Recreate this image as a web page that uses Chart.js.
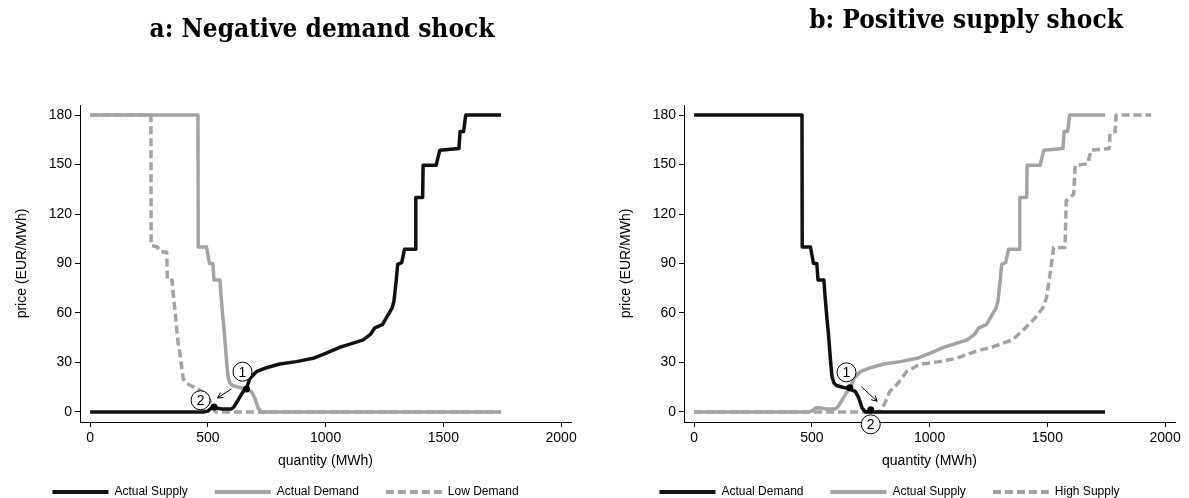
<!DOCTYPE html>
<html>
<head>
<meta charset="utf-8">
<script src="https://cdn.jsdelivr.net/npm/chart.js@4.4.1/dist/chart.umd.min.js"></script>
<style>
  html, body { margin: 0; padding: 0; background: #fff; width: 1189px; height: 498px; overflow: hidden; }
  .panel { position: absolute; top: 0; width: 585px; height: 498px; }
  .panel canvas { position: absolute; left: 0; top: 0; }
  .panel h2 {
    position: absolute; margin: 0; z-index: 2; white-space: nowrap;
    font: bold 26px/26px 'DejaVu Serif Condensed', 'DejaVu Serif', serif;
    font-stretch: condensed; color: #000;
    transform: translateX(-50%);
  }
</style>
</head>
<body>
<div class="panel" style="left:0">
  <h2 style="left:322px; top:15px">a: Negative demand shock</h2>
  <canvas id="chartA" width="585" height="498"></canvas>
</div>
<div class="panel" style="left:604px">
  <h2 style="left:362px; top:6px">b: Positive supply shock</h2>
  <canvas id="chartB" width="585" height="498"></canvas>
</div>
<script>
// ── Données (quantité MWh, prix EUR/MWh) ─────────────────────────────────────
const supplyQ = [0, 480, 500, 515, 530, 560, 600, 610, 628, 649, 664, 678, 706, 749, 805, 876, 947, 1003, 1060, 1100,
  1160, 1190, 1209, 1241, 1266, 1282, 1290, 1300, 1306, 1323, 1335, 1380, 1383, 1412, 1414, 1469, 1485, 1566, 1571, 1586, 1595, 1745];
const supplyP = [0, 0, 0.5, 2.4, 2.5, 1.8, 1.8, 3, 7.1, 12.2, 14.2, 20.3, 24.4, 26.8, 29.1, 30.5, 32.5, 35.6, 39.2, 41,
  43.7, 47, 51, 53, 59, 63, 67, 80, 89.5, 90.5, 98.6, 98.6, 130, 130, 149.5, 149.5, 158.7, 159.7, 170, 170, 180, 180];

const demandQ = [0, 458, 459, 494, 507, 521, 526, 551, 556, 565, 570, 576, 581, 586, 594, 605, 630, 660, 685, 699, 713, 727, 1745];
const demandP = [180, 180, 100, 100, 90, 90, 80, 80, 70, 55, 48, 37, 28, 21, 17.5, 16, 15, 14, 12.3, 8.5, 2.5, 0, 0];

const lowDemandQ = [0, 258, 259, 285, 300, 325, 328, 348, 352, 360, 368, 375, 381, 395, 409, 437, 466, 494, 515, 532, 1745];
const lowDemandP = [180, 180, 101, 100, 97, 97, 80, 80, 73, 62, 50, 40, 36, 20.3, 17.3, 15.3, 13.2, 10.2, 5, 0, 0];

const highSupplyQ = [0, 788, 809, 830, 859, 887, 901, 958, 1042, 1114, 1193, 1273, 1352, 1400, 1448, 1480, 1496, 1511, 1527,
  1575, 1580, 1612, 1618, 1671, 1686, 1763, 1766, 1788, 1792, 1941];
const highSupplyP = [0, 0, 5, 12.2, 16.3, 21.4, 24.4, 28.9, 30.5, 32.5, 36.6, 39.7, 43.7, 50, 57, 63, 69, 83, 99.7,
  99.7, 128, 132, 149.5, 150.5, 158.7, 159.7, 169, 170, 180, 180];

// équilibres (points noirs), étiquettes cerclées, flèches
const eqA     = [[664, 13.9], [526, 3]];
const labelsA = [[647, 24.4], [469, 7.1]];
const arrowA  = [[600, 13.9], [541, 8.5]];

const eqB     = [[661, 14.6], [750, 1.4]];
const labelsB = [[647, 24], [750, -7.5]];
const arrowB  = [[710, 15.3], [777, 6.5]];

const labelText = ['1', '2'];

const xTicks = [0, 500, 1000, 1500, 2000];
const yTicks = [0, 30, 60, 90, 120, 150, 180];

const BLACK = '#111111';
const GREY  = '#a3a3a3';
const FONT  = 'Liberation Sans, Arial, sans-serif';

const toPts = (q, p) => q.map((v, i) => ({ x: v, y: p[i] }));
const pairs = (arr) => arr.map(([x, y]) => ({ x, y }));

// ── Plugin : chiffres dans les cercles + pointe de flèche ────────────────────
const notesPlugin = {
  id: 'notes',
  afterDatasetsDraw(chart) {
    const ctx = chart.ctx;
    chart.data.datasets.forEach((ds, i) => {
      const meta = chart.getDatasetMeta(i);
      if (ds.noteText) {
        ctx.save();
        ctx.font = '14px ' + FONT;
        ctx.fillStyle = '#000';
        ctx.textAlign = 'center';
        ctx.textBaseline = 'middle';
        meta.data.forEach((pt, j) => ctx.fillText(ds.noteText[j], pt.x, pt.y + 1));
        ctx.restore();
      }
      if (ds.arrowHead) {
        const a = meta.data[0], b = meta.data[1];
        const ang = Math.atan2(b.y - a.y, b.x - a.x);
        ctx.save();
        ctx.strokeStyle = '#000';
        ctx.lineWidth = 1;
        ctx.beginPath();
        [-0.5, 0.5].forEach(d => {
          ctx.moveTo(b.x, b.y);
          ctx.lineTo(b.x - 6 * Math.cos(ang + d), b.y - 6 * Math.sin(ang + d));
        });
        ctx.stroke();
        ctx.restore();
      }
    });
  }
};

function buildChart(id, lines, eq, labels, arrow) {
  const datasets = [
    { label: 'labels', data: pairs(labels), noteText: labelText, order: 0, clip: false,
      pointRadius: 9.5, pointBackgroundColor: '#fff', pointBorderColor: '#000', pointBorderWidth: 1 },
    { label: 'eq', data: pairs(eq), order: 1, clip: false,
      pointRadius: 3.5, pointBackgroundColor: '#000', pointBorderColor: '#000', pointBorderWidth: 0 },
    { label: 'arrow', data: pairs(arrow), arrowHead: true, order: 2, showLine: true,
      borderColor: '#000', borderWidth: 1, pointRadius: 0, clip: false },
  ];
  lines.forEach((l, k) => datasets.push({
    label: l.label,
    data: toPts(l.q, l.p),
    showLine: true,
    order: 3 + k,
    borderColor: l.color,
    backgroundColor: l.color,
    borderWidth: 3.5,
    borderDash: l.dash ? [8, 4] : [],
    borderJoinStyle: 'round',
    pointRadius: 0,
    tension: 0,
  }));

  return new Chart(document.getElementById(id), {
    type: 'scatter',
    data: { datasets },
    plugins: [notesPlugin],
    options: {
      responsive: false,
      animation: false,
      events: [],
      layout: { padding: { top: 105, left: 0, right: 14, bottom: -10 } },
      plugins: {
        tooltip: { enabled: false },
        legend: {
          position: 'bottom',
          labels: {
            filter: (item) => item.datasetIndex >= 3,
            generateLabels: (chart) => Chart.defaults.plugins.legend.labels.generateLabels(chart)
              .map(it => Object.assign(it, {
                lineWidth: 4,
                pointStyle: 'line',
                lineDash: chart.data.datasets[it.datasetIndex].borderDash,
              })),
            usePointStyle: true,
            pointStyle: 'line',
            pointStyleWidth: 56,
            padding: 27,
            color: '#000',
            font: { family: FONT, size: 12 },
          },
        },
      },
      scales: {
        x: {
          type: 'linear',
          min: -43, max: 2042,
          afterBuildTicks: (s) => { s.ticks = xTicks.map(v => ({ value: v })); },
          afterFit: (s) => { s.height = 37; },
          ticks: { callback: (v) => String(v), color: '#000', padding: 3, maxRotation: 0,
                   font: { family: FONT, size: 14 } },
          grid: { drawOnChartArea: false, drawTicks: true, tickLength: 5, color: '#000' },
          border: { display: true, color: '#000', width: 1 },
          title: { display: true, text: 'quantity (MWh)', color: '#000',
                   font: { family: FONT, size: 14 }, padding: { top: 0, bottom: -11 } },
        },
        y: {
          type: 'linear',
          min: -6.1, max: 186.1,
          afterBuildTicks: (s) => { s.ticks = yTicks.map(v => ({ value: v })); },
          afterFit: (s) => { s.width = 80; },
          ticks: { callback: (v) => String(v), color: '#000', padding: 3,
                   font: { family: FONT, size: 14 } },
          grid: { drawOnChartArea: false, drawTicks: true, tickLength: 5, color: '#000' },
          border: { display: true, color: '#000', width: 1 },
          title: { display: true, text: 'price (EUR/MWh)', color: '#000',
                   font: { family: FONT, size: 14 }, padding: { top: 14, bottom: 0 } },
        },
      },
    },
  });
}

buildChart('chartA', [
  { label: 'Actual Supply', q: supplyQ, p: supplyP, color: BLACK },
  { label: 'Actual Demand', q: demandQ, p: demandP, color: GREY },
  { label: 'Low Demand', q: lowDemandQ, p: lowDemandP, color: GREY, dash: true },
], eqA, labelsA, arrowA);

buildChart('chartB', [
  { label: 'Actual Demand', q: demandQ, p: demandP, color: BLACK },
  { label: 'Actual Supply', q: supplyQ, p: supplyP, color: GREY },
  { label: 'High Supply', q: highSupplyQ, p: highSupplyP, color: GREY, dash: true },
], eqB, labelsB, arrowB);
</script>
</body>
</html>
